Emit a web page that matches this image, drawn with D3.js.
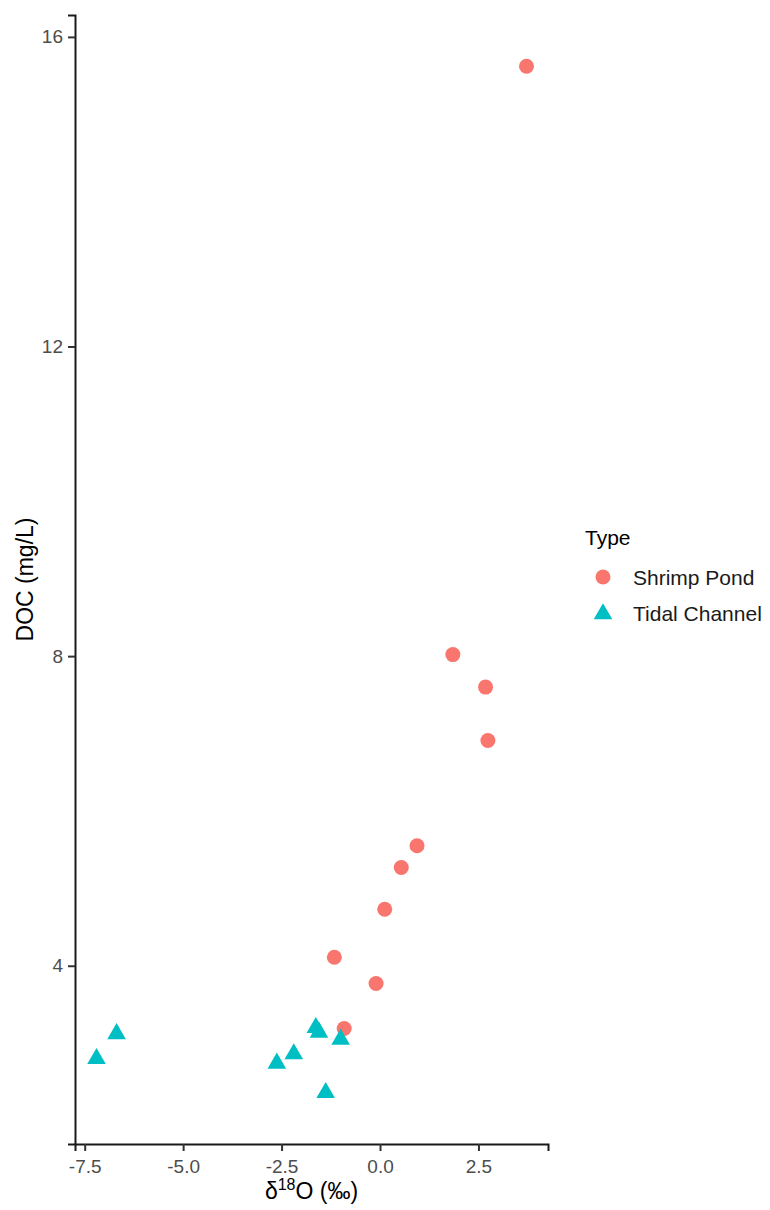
<!DOCTYPE html>
<html>
<head>
<meta charset="utf-8">
<script src="https://cdn.jsdelivr.net/npm/d3@7"></script>
<style>
  html, body { margin: 0; padding: 0; background: #fff; }
  text { font-family: "Liberation Sans", Arial, sans-serif; }
</style>
</head>
<body>
<svg id="chart" width="770" height="1210"></svg>
<script>
// ---- data ----
const types = ["Shrimp Pond", "Tidal Channel"];
const shrimpX = [3.72, 1.85, 2.68, 2.74, 0.94, 0.54, 0.12, -1.16, -0.10, -0.91];
const shrimpY = [15.62, 8.02, 7.60, 6.91, 5.55, 5.27, 4.73, 4.11, 3.77, 3.19];
const tidalX = [-6.69, -7.20, -1.63, -1.55, -1.00, -2.19, -2.62, -1.38];
const tidalY = [3.12, 2.80, 3.20, 3.14, 3.05, 2.86, 2.74, 2.36];
const xTicks = [-7.5, -5.0, -2.5, 0.0, 2.5];
const yTicks = [4, 8, 12, 16];
const colors = ["#F8766D", "#00BFC4"];

(function () {
const svg = d3.select("#chart");
const pLeft = 75, pRight = 548, pTop = 15, pBottom = 1144;

const allX = shrimpX.concat(tidalX), allY = shrimpY.concat(tidalY);
function expand(ext) { const r = ext[1] - ext[0]; return [ext[0] - 0.05 * r, ext[1] + 0.05 * r]; }
const x = d3.scaleLinear().domain(expand(d3.extent(allX))).range([pLeft, pRight]);
const y = d3.scaleLinear().domain(expand(d3.extent(allY))).range([pBottom, pTop]);

// axes
const xAxis = svg.append("g").attr("transform", `translate(0,${pBottom})`)
  .call(d3.axisBottom(x).tickValues(xTicks).tickFormat(d => d.toFixed(1)).tickSize(7).tickPadding(5));
const yAxis = svg.append("g").attr("transform", `translate(${pLeft},0)`)
  .call(d3.axisLeft(y).tickValues(yTicks).tickFormat(d => String(d)).tickSize(7).tickPadding(5));
[xAxis, yAxis].forEach(a => {
  a.select(".domain").attr("stroke", "#1a1a1a").attr("stroke-width", 2);
  a.selectAll(".tick line").attr("stroke", "#333").attr("stroke-width", 2);
  a.selectAll(".tick text").attr("fill", "#4d4d4d").style("font-size", "19px")
    .style("font-family", '"Liberation Sans", Arial, sans-serif');
});
xAxis.selectAll(".tick text").attr("dy", "0.9em");

// points
const shrimp = shrimpX.map((v, i) => ({ x: v, y: shrimpY[i] }));
const tidal = tidalX.map((v, i) => ({ x: v, y: tidalY[i] }));
const tri = d3.symbol().type(d3.symbolTriangle).size(150);

svg.append("g").selectAll("circle").data(shrimp).join("circle")
  .attr("cx", d => x(d.x)).attr("cy", d => y(d.y)).attr("r", 7.5)
  .attr("fill", colors[0]);
svg.append("g").selectAll("path").data(tidal).join("path")
  .attr("d", tri).attr("transform", d => `translate(${x(d.x)},${y(d.y)})`)
  .attr("fill", colors[1]);

// axis titles
const xt = svg.append("text").attr("x", (pLeft + pRight) / 2).attr("y", 1199)
  .attr("text-anchor", "middle").attr("fill", "#000").style("font-size", "23px");
xt.append("tspan").text("δ");
xt.append("tspan").text("18").style("font-size", "16px").attr("dy", "-9");
xt.append("tspan").text("O (‰)").attr("dy", "9");

svg.append("text").attr("transform", `translate(33,${(pTop + pBottom) / 2}) rotate(-90)`)
  .attr("text-anchor", "middle").attr("fill", "#000").style("font-size", "23px")
  .text("DOC (mg/L)");

// legend
const lg = svg.append("g");
lg.append("text").attr("x", 585).attr("y", 545).style("font-size", "21px").attr("fill", "#000").text("Type");
types.forEach((t, i) => {
  const cy = 577 + i * 36;
  if (i === 0) lg.append("circle").attr("cx", 603).attr("cy", cy).attr("r", 7.5).attr("fill", colors[0]);
  else lg.append("path").attr("d", tri).attr("transform", `translate(603,${cy + 1})`).attr("fill", colors[1]);
  lg.append("text").attr("x", 633).attr("y", cy + 8).style("font-size", "21px").attr("fill", "#1a1a1a").text(t);
});
})();
</script>
</body>
</html>
